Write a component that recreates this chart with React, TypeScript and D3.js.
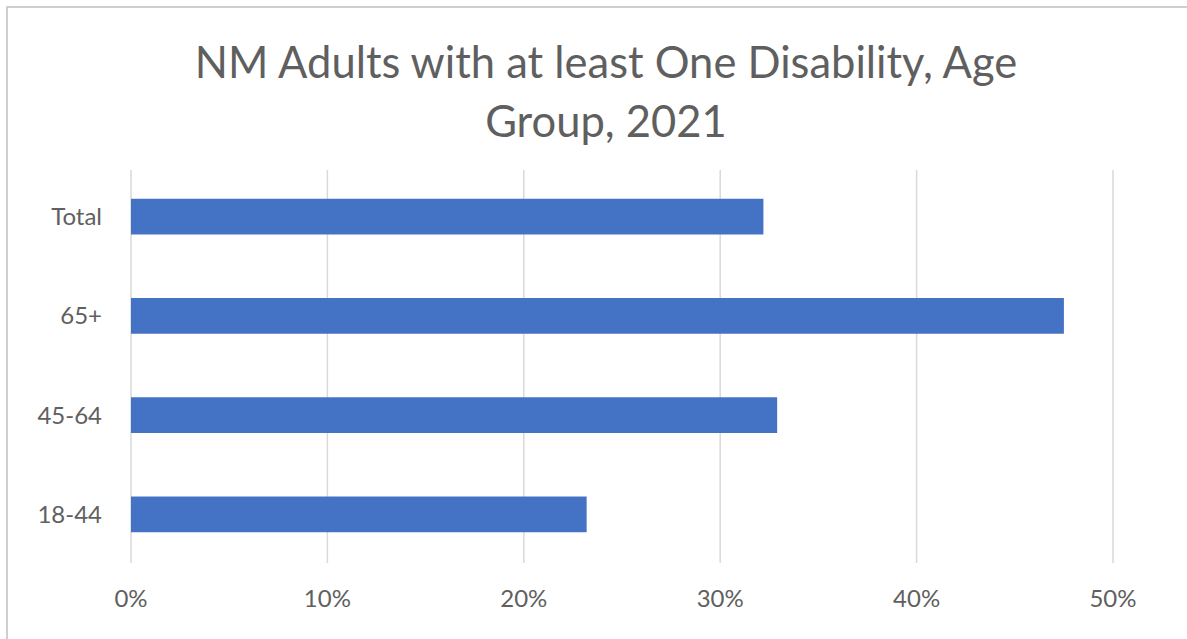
import React from "react";
import * as d3 from "d3";

const categories = ["Total", "65+", "45-64", "18-44"];
const values = [0.322, 0.475, 0.329, 0.232];
const xTicks = [0, 0.1, 0.2, 0.3, 0.4, 0.5];
const titleLines = ["NM Adults with at least One Disability, Age", "Group, 2021"];

const W = 1187;
const H = 639;
const FONT = "Lato, 'Open Sans', sans-serif";

export default function App() {
  const x = d3.scaleLinear().domain([0, 0.5]).range([131, 1113]);
  const y = d3.scaleBand().domain(categories).range([167, 564]).paddingInner(0.64).paddingOuter(0.32);
  const fmt = d3.format(".0%");
  return (
    <svg width={W} height={H} style={{ position: "absolute", left: 0, top: 0, background: "#fff" }}>
      <rect x={7} y={7} width={W + 10} height={H + 10} fill="#fff" stroke="#c0c0c0" strokeWidth={1.5} />
      {titleLines.map((t, i) => (
        <text key={i} x={606} y={78 + i * 59} textAnchor="middle" fontFamily={FONT} fontSize={43.5} fill="#5f5f5f">
          {t}
        </text>
      ))}
      {xTicks.map((t) => (
        <g key={t}>
          <line x1={x(t)} x2={x(t)} y1={170} y2={563} stroke="#d9d9d9" strokeWidth={1.5} />
          <text x={x(t)} y={607} textAnchor="middle" fontFamily={FONT} fontSize={24} fill="#606060">
            {fmt(t)}
          </text>
        </g>
      ))}
      {categories.map((c, i) => (
        <g key={c}>
          <rect x={x(0)} y={y(c)!} width={x(values[i]) - x(0)} height={y.bandwidth()} fill="#4472C4" />
          <text x={102} y={y(c)! + y.bandwidth() / 2} dy="0.35em" textAnchor="end" fontFamily={FONT} fontSize={24} fill="#606060">
            {c}
          </text>
        </g>
      ))}
    </svg>
  );
}
